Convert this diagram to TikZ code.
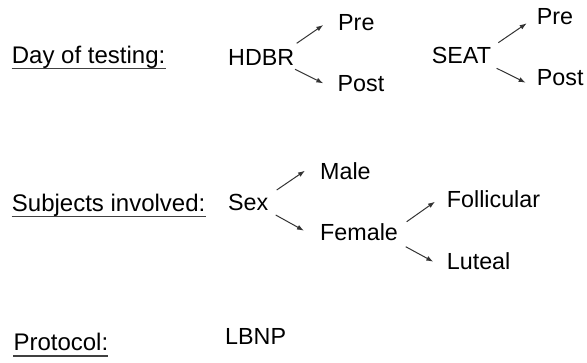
\documentclass[tikz,border=0pt]{standalone}
\usepackage{fontspec}
\setmainfont{Liberation Sans}
\usetikzlibrary{arrows.meta,calc}

\begin{document}
\begin{tikzpicture}[x=1pt,y=-1pt,
  lbl/.style={anchor=base west,inner sep=0pt,font=\fontsize{23.3}{28}\selectfont},
  head/.style={lbl,font=\fontsize{24}{29}\selectfont},
  arr/.style={draw=black!80,line width=1pt,-{Latex[length=7pt,width=5pt]}},
  uline/.style={line width=1.5pt,black!75}]
\useasboundingbox (0,0) rectangle (587,362);

% row 1: day of testing
\node[head] (day)   at (11.7,63)   {Day of testing:};
\node[lbl]  (hdbr)  at (228,65.7)  {HDBR};
\node[lbl]  (preA)  at (338,30)    {Pre};
\node[lbl]  (postA) at (337.5,91.7){Post};
\node[lbl]  (seat)  at (431.7,63)  {SEAT};
\node[lbl]  (preB)  at (536.7,24)  {Pre};
\node[lbl]  (postB) at (536.7,85)  {Post};

% row 2: subjects involved
\node[head] (subj)   at (11.7,211)   {Subjects involved:};
\node[lbl]  (sex)    at (228,210)    {Sex};
\node[lbl]  (male)   at (320,179)    {Male};
\node[lbl]  (female) at (320,240.7)  {Female};
\node[lbl]  (foll)   at (446.7,207.3){Follicular};
\node[lbl]  (lut)    at (446.7,269.3){Luteal};

% row 3: protocol
\node[head] (prot) at (13.3,350.5) {Protocol:};
\node[lbl]  (lbnp) at (225,344)    {LBNP};

% underlined headings
\foreach \h in {day,subj,prot}
  \draw[uline] ([yshift=-5.5pt]\h.base west) -- ([yshift=-5.5pt]\h.base east);

% branching arrows
\draw[arr] ($(hdbr.base west)+(68.7,-22.4)$)  -- ($(preA.base west)+(-14.7,-5)$);
\draw[arr] ($(hdbr.base west)+(67,3.6)$)      -- ($(postA.base west)+(-14.2,-8.4)$);
\draw[arr] ($(seat.base west)+(66.6,-20.3)$)  -- ($(preB.base west)+(-10,-0.7)$);
\draw[arr] ($(seat.base west)+(65,5.3)$)      -- ($(postB.base west)+(-11,-2.3)$);
\draw[arr] ($(sex.base west)+(48.7,-20)$)     -- ($(male.base west)+(-15,-8.3)$);
\draw[arr] ($(sex.base west)+(47.7,5)$)       -- ($(female.base west)+(-16,-10)$);
\draw[arr] ($(female.base west)+(86.7,-19)$)  -- ($(foll.base west)+(-11.7,-5.6)$);
\draw[arr] ($(female.base west)+(85.7,6)$)    -- ($(lut.base west)+(-13.4,-7.6)$);
\end{tikzpicture}
\end{document}
